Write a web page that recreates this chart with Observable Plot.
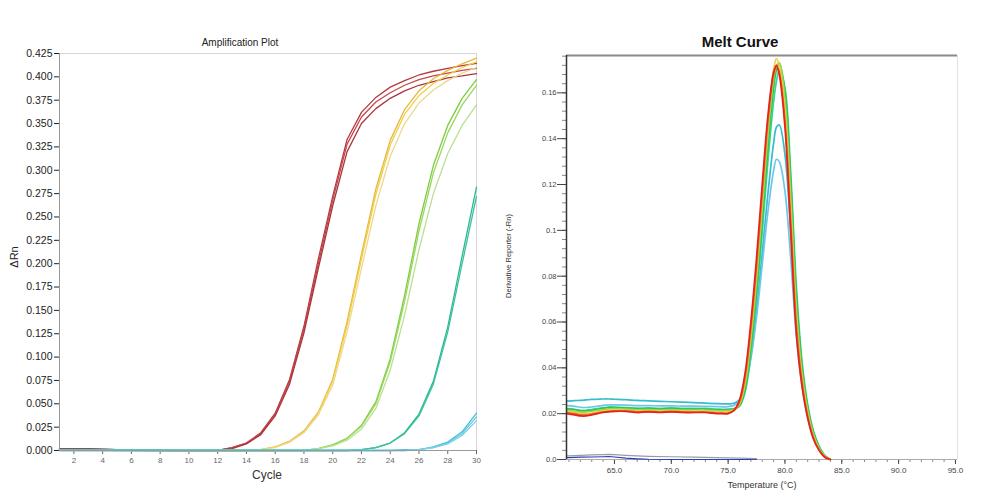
<!DOCTYPE html>
<html><head><meta charset="utf-8">
<script src="https://cdn.jsdelivr.net/npm/d3@7"></script>
<script src="https://cdn.jsdelivr.net/npm/@observablehq/plot@0.6"></script>
<style>
body{margin:0;background:#fff;width:1005px;height:502px;overflow:hidden;position:relative;font-family:"Liberation Sans",Arial,sans-serif;}
.pl{position:absolute;top:0;}
.lbl{position:absolute;white-space:nowrap;color:#222;}
</style></head><body>
<div id="left" class="pl" style="left:0"></div>
<div id="right" class="pl" style="left:490px"></div>
<div class="lbl" style="left:240px;top:42px;transform:translate(-50%,-50%);font-size:10px;">Amplification Plot</div>
<div class="lbl" style="left:267px;top:475px;transform:translate(-50%,-50%);font-size:12px;color:#333">Cycle</div>
<div class="lbl" style="left:14px;top:257px;transform:translate(-50%,-50%) rotate(-90deg);font-size:11px;">ΔRn</div>
<div class="lbl" style="left:740px;top:41px;transform:translate(-50%,-50%);font-size:15px;font-weight:bold;color:#111">Melt Curve</div>
<div class="lbl" style="left:762px;top:485px;transform:translate(-50%,-50%);font-size:9px;color:#333">Temperature (°C)</div>
<div class="lbl" style="left:508px;top:256px;transform:translate(-50%,-50%) rotate(-90deg);font-size:7.5px;color:#333">Derivative Reporter (-Rn)</div>
<script>
// ---------- Amplification plot data ----------
const cycles = [1,2,3,4,5,6,7,8,9,10,11,12,13,14,15,16,17,18,19,20,21,22,23,24,25,26,27,28,29,30];
const ampXTicks = [2,4,6,8,10,12,14,16,18,20,22,24,26,28,30];
const ampYTicks = [0,0.025,0.05,0.075,0.1,0.125,0.15,0.175,0.2,0.225,0.25,0.275,0.3,0.325,0.35,0.375,0.4,0.425];

const red1 = [0.002,0.002,0.002,0.0015,0.001,0.001,0.0005,0,0,0,0,0,0.003,0.008,0.019,0.040,0.076,0.133,0.205,0.272,0.333,0.362,0.378,0.389,0.396,0.402,0.406,0.409,0.412,0.4145];
const red2 = [0.002,0.002,0.0015,0.0015,0.001,0.0005,0,0,0,0,0,0,0.003,0.008,0.018,0.039,0.074,0.130,0.200,0.268,0.328,0.357,0.373,0.383,0.391,0.397,0.401,0.404,0.407,0.409];
const red3 = [0.0015,0.0015,0.0015,0.001,0.001,0.0005,0,0,0,0,0,0,0.002,0.007,0.017,0.037,0.071,0.126,0.195,0.262,0.320,0.350,0.366,0.377,0.385,0.391,0.395,0.399,0.401,0.4035];
const yel1 = [0.001,0.001,0.001,0.001,0.001,0,0,0,0,0,0,0,0,0,0.001,0.004,0.010,0.021,0.041,0.076,0.138,0.210,0.280,0.332,0.365,0.385,0.398,0.407,0.414,0.420];
const yel2 = [0.001,0.001,0.001,0.001,0,0,0,0,0,0,0,0,0,0,0.001,0.004,0.009,0.020,0.040,0.074,0.134,0.205,0.274,0.327,0.360,0.380,0.393,0.402,0.410,0.416];
const yel3 = [0.001,0.001,0.001,0,0,0,0,0,0,0,0,0,0,0,0.001,0.003,0.009,0.019,0.038,0.070,0.127,0.195,0.262,0.315,0.350,0.372,0.386,0.396,0.404,0.410];
const grn1 = [0.001,0.001,0.001,0.001,0.001,0.0005,0,0,0,0,0,0,0,0,0,0,0,0,0.002,0.006,0.013,0.027,0.052,0.098,0.166,0.243,0.305,0.348,0.377,0.397];
const grn2 = [0.001,0.001,0.001,0.001,0.0005,0,0,0,0,0,0,0,0,0,0,0,0,0,0.002,0.006,0.013,0.026,0.050,0.095,0.160,0.235,0.297,0.340,0.370,0.391];
const grn3 = [0.001,0.001,0.001,0.0005,0,0,0,0,0,0,0,0,0,0,0,0,0,0,0.002,0.005,0.011,0.023,0.045,0.086,0.145,0.215,0.275,0.318,0.348,0.370];
const teal1 = [0.001,0.001,0.001,0.001,0.001,0.001,0.001,0.0005,0,0,0,0,0,0,0,0,0,0,0,0,0,0.001,0.003,0.008,0.019,0.039,0.074,0.132,0.208,0.282];
const teal2 = [0.001,0.001,0.001,0.001,0.001,0.001,0.0005,0,0,0,0,0,0,0,0,0,0,0,0,0,0,0.001,0.003,0.008,0.018,0.037,0.071,0.127,0.200,0.272];
const cyan1 = [0,0,0,0,0,0,0,0,0,0,0,0,0,0,0,0,0,0,0,0,0,0,0,0,0.001,0.001,0.004,0.009,0.020,0.040];
const cyan2 = [0,0,0,0,0,0,0,0,0,0,0,0,0,0,0,0,0,0,0,0,0,0,0,0,0,0.001,0.003,0.008,0.018,0.036];
const cyan3 = [0,0,0,0,0,0,0,0,0,0,0,0,0,0,0,0,0,0,0,0,0,0,0,0,0,0.001,0.003,0.007,0.016,0.032];

const ampNames  = ["red1","red2","red3","yel1","yel2","yel3","grn1","grn2","grn3","teal1","teal2","cyan1","cyan2","cyan3"];
const ampValues = [red1,red2,red3,yel1,yel2,yel3,grn1,grn2,grn3,teal1,teal2,cyan1,cyan2,cyan3];
const ampColors = ["#b8383e","#c4484c","#a9343e","#e6b640","#f0d044","#eed890","#7ccc3c","#98d860","#b8e090","#2ab890","#3cc0a0","#40c0d8","#60c8e0","#80d0e8"];

// ---------- Melt curve data ----------
const meltTemps = [60.8,61.5,62,62.5,63,63.5,64,64.5,65,66,67,68,69,70,71,72,73,74,74.5,75,75.5,76,76.5,77,77.5,78,78.5,79,79.25,79.5,80,80.5,81,81.5,82,82.5,83,83.5,84];
const meltRed    = [.0200,.0195,.0190,.0190,.0195,.0200,.0205,.0208,.0210,.0210,.0205,.0208,.0205,.0208,.0205,.0205,.0205,.0200,.0200,.0200,.0215,.0260,.0380,.0600,.0880,.1200,.1500,.1690,.1720,.1680,.1450,.1000,.0550,.0320,.0180,.0090,.0040,.0010,.0000];
const meltOrange = [.0205,.0200,.0195,.0195,.0198,.0203,.0208,.0210,.0212,.0212,.0208,.0210,.0207,.0210,.0208,.0207,.0207,.0203,.0202,.0203,.0212,.0250,.0360,.0570,.0840,.1160,.1470,.1680,.1715,.1690,.1480,.1050,.0590,.0340,.0190,.0095,.0042,.0012,.0000];
const meltYellow = [.0210,.0205,.0200,.0200,.0203,.0208,.0212,.0215,.0216,.0215,.0212,.0213,.0211,.0213,.0211,.0211,.0211,.0208,.0207,.0208,.0215,.0245,.0345,.0550,.0820,.1140,.1460,.1700,.1750,.1720,.1520,.1100,.0620,.0355,.0200,.0100,.0045,.0013,.0000];
const meltLime   = [.0215,.0212,.0207,.0207,.0210,.0214,.0218,.0221,.0222,.0220,.0217,.0218,.0216,.0218,.0216,.0216,.0216,.0213,.0212,.0213,.0218,.0240,.0330,.0520,.0780,.1090,.1410,.1660,.1720,.1730,.1570,.1160,.0670,.0380,.0215,.0110,.0050,.0015,.0000];
const meltGreen  = [.0220,.0217,.0212,.0212,.0215,.0219,.0223,.0226,.0226,.0224,.0221,.0222,.0220,.0222,.0220,.0220,.0220,.0217,.0216,.0217,.0220,.0235,.0310,.0490,.0740,.1040,.1360,.1620,.1700,.1730,.1610,.1220,.0720,.0410,.0230,.0120,.0055,.0017,.0000];
const meltMint   = [.0222,.0219,.0215,.0215,.0218,.0222,.0226,.0229,.0229,.0227,.0224,.0225,.0223,.0225,.0223,.0223,.0223,.0220,.0219,.0220,.0222,.0232,.0295,.0460,.0700,.0990,.1300,.1560,.1650,.1700,.1620,.1260,.0760,.0430,.0240,.0125,.0058,.0018,.0000];
const meltCyan   = [.0255,.0257,.0258,.0260,.0262,.0263,.0264,.0264,.0263,.0261,.0258,.0256,.0254,.0252,.0250,.0248,.0246,.0244,.0243,.0243,.0245,.0260,.0320,.0450,.0650,.0900,.1160,.1380,.1450,.1460,.1330,.1000,.0610,.0360,.0205,.0110,.0050,.0015,.0000];
const meltSky    = [.0235,.0232,.0228,.0227,.0229,.0232,.0236,.0238,.0238,.0237,.0235,.0235,.0234,.0234,.0233,.0233,.0232,.0231,.0230,.0231,.0236,.0255,.0320,.0440,.0620,.0850,.1080,.1260,.1310,.1300,.1170,.0880,.0540,.0320,.0185,.0100,.0045,.0014,.0000];
const meltNames  = ["meltCyan","meltSky","meltMint","meltGreen","meltLime","meltYellow","meltOrange","meltRed"];
const meltValues = [meltCyan,meltSky,meltMint,meltGreen,meltLime,meltYellow,meltOrange,meltRed];
const meltColors = ["#38bccb","#6ec6ea","#3ad39c","#2fc24a","#8edb52","#f2c94a","#f26522","#e3241c"];

const ntcTemps = [60.8,61.5,62,63,64,64.5,65,66,67,68,70,72,74,76,77.5];
const ntcBlue  = [.0008,.0009,.0010,.0011,.0012,.0013,.0011,.0006,.0003,.0001,0,0,0,0,0];
const ntcGray  = [.0016,.0017,.0018,.0020,.0021,.0022,.0021,.0018,.0016,.0014,.0012,.0010,.0008,.0006,.0004];

const meltXTicks = [65,70,75,80,85,90,95];
const meltYTicks = [0,0.02,0.04,0.06,0.08,0.1,0.12,0.14,0.16];
const meltYTickLabels = ["0.0","0.02","0.04","0.06","0.08","0.1","0.12","0.14","0.16"];

// ---------- Amplification plot ----------
const ampRows = ampNames.flatMap((n, k) => ampValues[k].map((v, i) => ({name: n, cycle: cycles[i], value: v})));
const left = Plot.plot({
  width: 490, height: 490,
  marginLeft: 59, marginRight: 14, marginTop: 53, marginBottom: 40,
  style: {fontFamily: '"Liberation Sans", Arial, sans-serif', background: "#fff"},
  x: {domain: [1, 30]},
  y: {domain: [0, 0.425]},
  color: {domain: ampNames, range: ampColors},
  marks: [
    Plot.frame({stroke: "#d6d6d6"}),
    Plot.axisY({ticks: ampYTicks, tickFormat: d3.format(".3f"), tickSize: 5, tickPadding: 2, fontSize: 10.5, color: "#222", label: null}),
    Plot.axisX({ticks: ampXTicks, tickFormat: d => String(d), tickSize: 4, tickPadding: 3, fontSize: 8, color: "#666", label: null}),
    Plot.line(ampRows, {x: "cycle", y: "value", z: "name", stroke: "name", strokeWidth: 1.3}),
    Plot.ruleX([1], {stroke: "#999"}),
    Plot.ruleY([0], {stroke: "#999"})
  ]
});
document.getElementById("left").appendChild(left);

// ---------- Melt curve ----------
const meltRows = meltNames.flatMap((n, k) => meltValues[k].map((v, i) => ({name: n, t: meltTemps[i], value: v})));
const ntcRows = [
  ...ntcBlue.map((v, i) => ({name: "ntcBlue", t: ntcTemps[i], value: v})),
  ...ntcGray.map((v, i) => ({name: "ntcGray", t: ntcTemps[i], value: v}))
];
const right = Plot.plot({
  width: 515, height: 502,
  marginLeft: 76, marginRight: 48, marginTop: 55, marginBottom: 43,
  style: {fontFamily: '"Liberation Sans", Arial, sans-serif', background: "#fff"},
  x: {domain: [60.78, 95.18]},
  y: {domain: [0, 0.1763]},
  color: {domain: [...meltNames, "ntcBlue", "ntcGray"], range: [...meltColors, "#2a3fb0", "#9a9aaa"]},
  marks: [
    Plot.ruleX([95.18], {stroke: "#e2e2e2"}),
    Plot.axisY({ticks: d3.range(0, 0.1763, 0.004), tickSize: 4, text: null, stroke: "#888", label: null}),
    Plot.axisY({ticks: meltYTicks, tickFormat: (d, i) => meltYTickLabels[i], tickSize: 9, tickPadding: 1, fontSize: 7.5, color: "#444", label: null}),
    Plot.axisX({ticks: d3.range(61, 96, 1), tickSize: 3, text: null, stroke: "#888", label: null}),
    Plot.axisX({ticks: meltXTicks, tickFormat: d3.format(".1f"), tickSize: 5, tickPadding: 3, fontSize: 8, color: "#444", label: null}),
    Plot.ruleY([0], {stroke: "#aaa"}),
    Plot.line(ntcRows, {x: "t", y: "value", z: "name", stroke: "name", strokeWidth: 1.2}),
    Plot.line(meltRows, {x: "t", y: "value", z: "name", stroke: "name", strokeWidth: 1.7, curve: "catmull-rom"}),
    Plot.ruleY([0.1763], {stroke: "#8a8a8a", strokeWidth: 2}),
    Plot.ruleX([60.78], {stroke: "#333", strokeWidth: 1.5})
  ]
});
document.getElementById("right").appendChild(right);
</script>
</body></html>
